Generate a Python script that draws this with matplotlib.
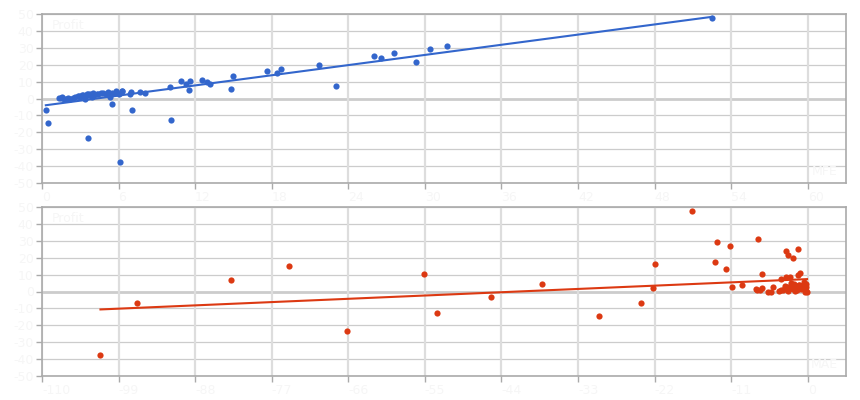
import matplotlib
matplotlib.use("Agg")
import matplotlib.pyplot as plt
import numpy as np

# trades: profit, max favourable excursion, max adverse excursion
profit = [47.4, -37.8, -23.6, -14.3, -13.0, -6.8, -6.6, -3.2, 30.9, 29.5,
          26.9, 25.0, 24.0, 21.5, 20.0, 17.5, 16.2, 15.1, 13.4, 10.3,
          10.9, 10.0, 10.1, 8.5, 8.3, 7.3, 6.6, 5.7, 5.1, 4.4,
          0.4, 0.9, -0.2, -0.5, 0.1, -0.1, 0.6, 1.2, 1.6, 0.9,
          1.9, 2.3, 1.4, -0.1, 2.1, 2.6, 1.8, 2.4, 1.0, 2.2,
          2.8, 2.7, 3.0, 3.2, 2.5, 4.1, 1.1, 3.4, 3.1, 2.7,
          4.5, 2.7, 4.1, 3.7, 3.0, 0.3, 2.9, 3.5, 4.4, 0.2]
mfe = [52.5, 6.15, 3.6, 0.5, 10.1, 7.05, 0.3, 5.45, 31.7, 30.4,
       27.6, 26.0, 26.55, 29.3, 21.7, 18.75, 17.6, 18.4, 15.0, 10.9,
       12.5, 12.9, 11.6, 11.3, 13.2, 23.0, 10.05, 14.8, 11.5, 6.3,
       1.3, 1.6, 1.7, 1.9, 2.0, 2.2, 2.6, 2.8, 2.9, 3.0,
       3.1, 3.2, 3.3, 3.4, 3.5, 3.6, 3.7, 3.8, 3.9, 4.1,
       4.3, 4.4, 4.6, 4.8, 5.0, 5.2, 5.3, 5.5, 5.7, 6.0,
       6.3, 6.9, 7.0, 7.7, 8.1, 2.4, 3.5, 4.0, 5.8, 1.5]
mae = [-16.6, -101.6, -66.2, -30.0, -53.3, -96.3, -24.0, -45.5, -7.1, -13.0,
       -11.2, -1.4, -3.1, -2.9, -2.1, -13.3, -21.9, -74.5, -11.7, -55.1,
       -1.1, -1.4, -6.6, -2.6, -3.1, -3.8, -82.8, -0.6, -2.4, -38.1,
       -0.3, -6.9, -0.1, -0.4, -2.8, -5.7, -3.9, -2.1, -1.0, -7.3,
       -6.5, -3.3, -7.4, -5.3, -0.5, -1.6, -2.4, -0.2, -1.5, -22.2,
       -3.0, -10.9, -0.9, -2.2, -5.0, -1.2, -3.6, -0.7, -1.9, -0.4,
       -0.3, -2.7, -9.4, -1.3, -3.2, -1.8, -1.1, -0.8, -2.0, -4.1]

mfe_ticks = [0, 6, 12, 18, 24, 30, 36, 42, 48, 54, 60]
mae_ticks = [-110, -99, -88, -77, -66, -55, -44, -33, -22, -11, 0]
y_ticks = [-50, -40, -30, -20, -10, 0, 10, 20, 30, 40, 50]

txt = '#f6f6f6'
fig = plt.figure(figsize=(8.6, 4), dpi=100)


def panel(rect, x, y, color, xticks, xlim, xname):
    ax = fig.add_axes(rect)
    x = np.array(x)
    y = np.array(y)
    ax.set_xlim(*xlim)
    ax.set_ylim(-50, 50)
    for v in y_ticks:
        if v == 0:
            ax.axhline(v, color='#cccccc', lw=2, zorder=1)
        else:
            ax.axhline(v, color='#cccccc', lw=0.9, zorder=1)
    for v in xticks:
        ax.axvline(v, color='#dddddd', lw=1.6, zorder=1)
    ax.scatter(x, y, s=20, color=color, zorder=3, linewidths=0)
    k, b = np.polyfit(x, y, 1)
    xs = np.array([x.min(), x.max()])
    ax.plot(xs, k * xs + b, color=color, lw=1.5, zorder=2)
    ax.set_xticks(xticks)
    ax.set_yticks(y_ticks)
    ax.set_xticklabels([str(t) for t in xticks], color=txt, fontsize=9, ha='left')
    ax.set_yticklabels([str(t) for t in y_ticks], color=txt, fontsize=9)
    ax.tick_params(axis='both', length=4, color='#aaaaaa', width=1, pad=2)
    for s in ax.spines.values():
        s.set_color('#aaaaaa')
        s.set_linewidth(1.2)
    ax.text(0.012, 0.97, 'Profit', transform=ax.transAxes, color=txt,
            fontsize=9, va='top', ha='left')
    ax.text(0.99, 0.03, xname, transform=ax.transAxes, color=txt,
            fontsize=9, va='bottom', ha='right')
    return ax


panel([42 / 860, 1 - 183 / 400, 804 / 860, 169 / 400], mfe, profit,
      '#3366cc', mfe_ticks, (0, 63), 'MFE')
panel([42 / 860, 1 - 376 / 400, 804 / 860, 169 / 400], mae, profit,
      '#dc3912', mae_ticks, (-110, 5.5), 'MAE')

fig.savefig('out.png', dpi=100)
